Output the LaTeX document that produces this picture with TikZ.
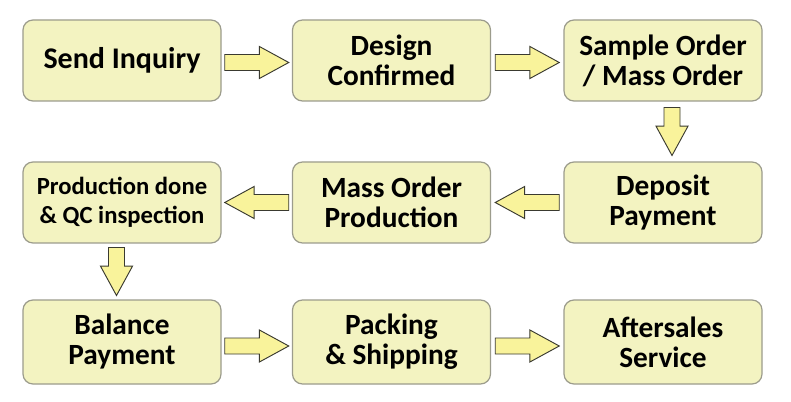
\documentclass[tikz,border=0pt]{standalone}
\usepackage{fontspec}
\setmainfont{Carlito}
\usetikzlibrary{calc}
\definecolor{boxfill}{HTML}{F3F3C1}
\definecolor{boxline}{HTML}{9C9C8C}
\definecolor{arrfill}{HTML}{F9F39B}
\definecolor{arrline}{HTML}{3A3A30}
\tikzset{
  stepbox/.style={draw=boxline, fill=boxfill, line width=0.9pt, rounded corners=7.5pt,
    minimum width=148.5pt, minimum height=60.75pt, align=center, inner sep=0pt,
    font=\fontsize{22}{22.5}\selectfont\bfseries},
  pics/barrow/.style={code={
    \draw[fill=arrfill, draw=arrline, line width=0.7pt, line join=miter]
      (-#1,-6pt) -- ({#1-22pt},-6pt) -- ({#1-22pt},-12pt) -- (#1,0pt)
      -- ({#1-22pt},12pt) -- ({#1-22pt},6pt) -- (-#1,6pt) -- cycle;}}
}
\begin{document}
\begin{tikzpicture}[x=0.75pt,y=-0.75pt]
\fill[white] (0,0) rectangle (791,402);
\useasboundingbox (0,0) rectangle (791,402);
\node[stepbox, font=\fontsize{22.5}{23}\selectfont\bfseries] (n1) at (122,60.5) {Send Inquiry};
\node[stepbox] (n2) at (391.5,60.5) {Design\\Confirmed};
\node[stepbox] (n3) at (663,60.5) {Sample Order\\/ Mass Order};
\node[stepbox, font=\fontsize{18.5}{21.75}\selectfont\bfseries] (n4) at (122,202.5) {Production done\\\& QC inspection};
\node[stepbox] (n5) at (391.5,202.5) {Mass Order\\Production};
\node[stepbox] (n6) at (663,202.5) {Deposit\\Payment};
\node[stepbox, minimum height=63pt] (n7) at (122,342) {Balance\\Payment};
\node[stepbox, minimum height=63pt] (n8) at (391.5,342) {Packing\\\& Shipping};
\node[stepbox, minimum height=63pt] (n9) at (663,342) {Aftersales\\Service};
\path ($(n1.east)!.5!(n2.west)$) ++(0,2) pic {barrow=24pt};
\path ($(n2.east)!.5!(n3.west)$) ++(0,2) pic {barrow=24pt};
\path ($(n3.south)!.5!(n6.north)$) ++(9,0) pic[rotate=-90] {barrow=18pt};
\path ($(n6.west)!.5!(n5.east)$) pic[rotate=180] {barrow=24pt};
\path ($(n5.west)!.5!(n4.east)$) pic[rotate=180] {barrow=24pt};
\path ($(n4.south)!.5!(n7.north)$) ++(-5.5,0) pic[rotate=-90] {barrow=18pt};
\path ($(n7.east)!.5!(n8.west)$) ++(0,4) pic {barrow=24pt};
\path ($(n8.east)!.5!(n9.west)$) ++(0,4) pic {barrow=24pt};
\end{tikzpicture}
\end{document}
